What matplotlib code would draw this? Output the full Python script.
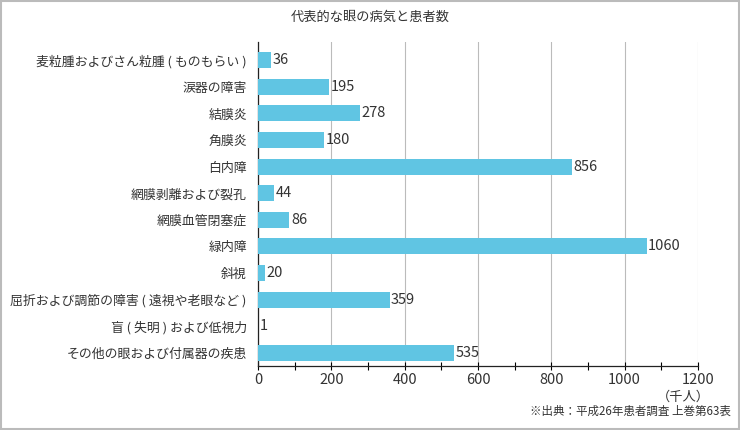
import matplotlib
matplotlib.use('Agg')
import matplotlib.pyplot as plt
from matplotlib.patches import Rectangle
from matplotlib.ticker import MultipleLocator

plt.rcParams['font.family'] = ['Noto Sans CJK JP', 'DejaVu Sans']

diseases = [
    '麦粒腫およびさん粒腫 ( ものもらい )',
    '涙器の障害',
    '結膜炎',
    '角膜炎',
    '白内障',
    '網膜剥離および裂孔',
    '網膜血管閉塞症',
    '緑内障',
    '斜視',
    '屈折および調節の障害 ( 遠視や老眼など )',
    '盲 ( 失明 ) および低視力',
    'その他の眼および付属器の疾患',
]
patients = [36, 195, 278, 180, 856, 44, 86, 1060, 20, 359, 1, 535]
x_ticks = [0, 200, 400, 600, 800, 1000, 1200]

BAR_COLOR = '#60c5e3'
TEXT_COLOR = '#333333'

fig = plt.figure(figsize=(7.4, 4.3), dpi=100)
ax = fig.add_axes([0.3486, 0.1488, 0.5946, 0.7535])

y = list(range(len(diseases)))
ax.barh(y, patients, height=0.6, color=BAR_COLOR, zorder=3)
for yi, v in zip(y, patients):
    ax.text(v + 4, yi, str(v), va='center', ha='left', fontsize=10.5,
            color=TEXT_COLOR, zorder=4)

ax.set_xlim(0, 1200)
ax.set_ylim(11.49, -0.68)
ax.set_yticks(y)
ax.set_yticklabels(diseases, fontsize=9.3, color=TEXT_COLOR)
ax.tick_params(axis='y', length=0, pad=8)
ax.set_xticks(x_ticks)
ax.xaxis.set_minor_locator(MultipleLocator(100))
ax.tick_params(axis='x', which='both', direction='inout', length=6,
               labelsize=10.5, labelcolor=TEXT_COLOR, width=0.8, pad=2)
ax.grid(axis='x', color='#bbbbbb', linewidth=0.8, zorder=0)

for s in ['top', 'right']:
    ax.spines[s].set_visible(False)
for s in ['left', 'bottom']:
    ax.spines[s].set_color('#222222')
    ax.spines[s].set_linewidth(0.9)

fig.text(0.5, 0.96, '代表的な眼の病気と患者数', ha='center', va='center',
         fontsize=9.5, color=TEXT_COLOR)
fig.text(0.923, 0.077, '（千人）', ha='center', va='center', fontsize=9.5,
         color=TEXT_COLOR)
fig.text(0.987, 0.044, '※出典：平成26年患者調査 上巻第63表', ha='right',
         va='center', fontsize=8.3, color=TEXT_COLOR)

fig.patches.append(Rectangle((0.001, 0.002), 0.997, 0.996, transform=fig.transFigure,
                             fill=False, edgecolor='#bbbbbb', linewidth=1.5))

fig.savefig('out.png', dpi=100)
